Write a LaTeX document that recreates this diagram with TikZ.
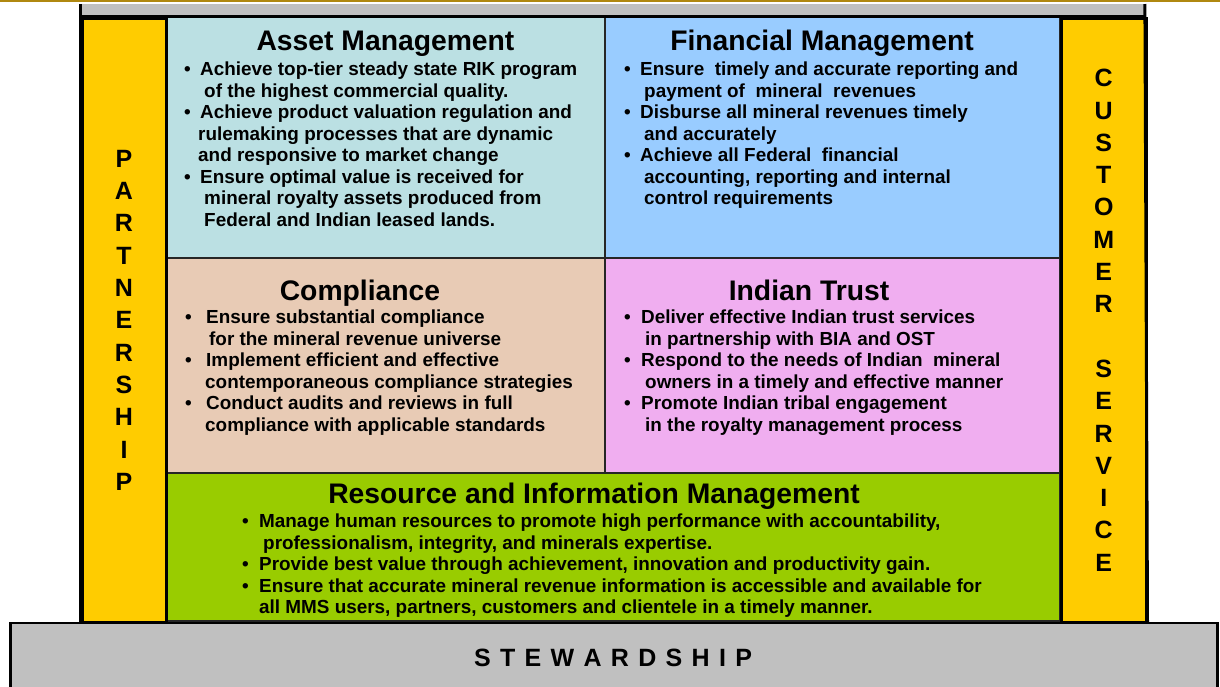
\documentclass[tikz,border=0pt]{standalone}
\usepackage{fontspec}
\setmainfont{Liberation Sans}
\usetikzlibrary{positioning}

\definecolor{assetblue}{RGB}{187,224,227}
\definecolor{financeblue}{RGB}{153,204,255}
\definecolor{compliancetan}{RGB}{232,203,181}
\definecolor{trustpink}{RGB}{240,174,240}
\definecolor{resourcegreen}{RGB}{153,204,0}
\definecolor{pillaryellow}{RGB}{255,204,0}
\definecolor{basegray}{RGB}{192,192,192}
\definecolor{rimgold}{RGB}{176,136,16}

\newcommand{\itm}[1][16pt]{\makebox[#1][l]{\textbullet}}
\newcommand{\ind}[1]{\hspace*{#1}}

\begin{document}
\begin{tikzpicture}
	[x=1pt, y=-1pt,
	 cell/.style={draw=black!85, line width=1.5pt, anchor=north west, inner sep=0pt, outer sep=0pt},
	 pillar/.style={draw=black, line width=3pt, fill=pillaryellow, anchor=north west, inner sep=0pt},
	 slab/.style={fill=basegray, anchor=north west, inner sep=0pt},
	 head/.style={anchor=base, inner sep=0pt, font=\fontsize{28.3}{34}\selectfont\bfseries},
	 lst/.style={anchor=north west, align=left, inner sep=0pt, font=\fontsize{18.9}{21.5}\selectfont\bfseries},
	 vert/.style={align=center, inner sep=0pt, font=\fontsize{25}{32.3}\selectfont\bfseries}]
	\useasboundingbox (0,0) rectangle (1220,686);

	% roof
	\node[fill=rimgold, anchor=north west, inner sep=0pt, minimum width=1220pt, minimum height=2pt] (rim) at (0,0) {};
	\node[slab, minimum width=1064pt, minimum height=12.5pt] (roof) at (80.5,4) {};

	% the five areas
	\node[cell, fill=assetblue, minimum width=440pt, minimum height=241.5pt] (asset) at (165,16.5) {};
	\node[cell, fill=financeblue, minimum width=455pt, minimum height=241.5pt] (finance) at (605,16.5) {};
	\node[cell, fill=compliancetan, minimum width=440pt, minimum height=215pt] (comply) at (165,258) {};
	\node[cell, fill=trustpink, minimum width=455pt, minimum height=215pt] (trust) at (605,258) {};
	\node[cell, fill=resourcegreen, minimum width=895pt, minimum height=148pt] (resource) at (165,473) {};

	% pillars
	\node[pillar, minimum width=84pt, minimum height=604.5pt] (left) at (80.5,16.5) {};
	\node[pillar, minimum width=84.5pt, minimum height=604.5pt] (right) at (1060,16.5) {};
	\draw[line width=3pt] (roof.south west) -- (roof.south east);
	\draw[line width=3pt] (roof.north west) -- (left.south west);
	\draw[line width=3pt] (roof.north east) -- (right.south east);

	% base
	\node[slab, draw=black, line width=2.5pt, minimum width=1207pt, minimum height=80pt] (base) at (9,621.5) {};

	% headings
	\node[head] (assethead) at (385.5,50.5) {Asset Management};
	\node[head] (financehead) at (822,50.5) {Financial Management};
	\node[head] (complyhead) at (360,300.5) {Compliance};
	\node[head] (trusthead) at (809,300.5) {Indian Trust};
	\node[head] (resourcehead) at (594,503.5) {Resource and Information Management};

	% goals
	\node[lst] (assetlist) at (184,62) {\itm Achieve top-tier steady state RIK program\\
		\ind{20pt}of the highest commercial quality.\\
		\itm Achieve product valuation regulation and\\
		\ind{14pt}rulemaking processes that are dynamic\\
		\ind{14pt}and responsive to market change\\
		\itm Ensure optimal value is received for\\
		\ind{20pt}mineral royalty assets produced from\\
		\ind{20pt}Federal and Indian leased lands.};
	\node[lst] (financelist) at (624,62) {\itm Ensure~ timely and accurate reporting and\\
		\ind{20pt}payment of~ mineral~ revenues\\
		\itm Disburse all mineral revenues timely\\
		\ind{20pt}and accurately\\
		\itm Achieve all Federal~ financial\\
		\ind{20pt}accounting, reporting and internal\\
		\ind{20pt}control requirements};
	\node[lst] (complylist) at (185,310) {\itm[21pt]Ensure substantial compliance\\
		\ind{24pt}for the mineral revenue universe\\
		\itm[21pt]Implement efficient and effective\\
		\ind{20pt}contemporaneous compliance strategies\\
		\itm[21pt]Conduct audits and reviews in full\\
		\ind{20pt}compliance with applicable standards};
	\node[lst] (trustlist) at (624,310) {\itm[17pt]Deliver effective Indian trust services\\
		\ind{21pt}in partnership with BIA and OST\\
		\itm[17pt]Respond to the needs of Indian~ mineral\\
		\ind{21pt}owners in a timely and effective manner\\
		\itm[17pt]Promote Indian tribal engagement\\
		\ind{21pt}in the royalty management process};
	\node[lst] (resourcelist) at (242,514) {\itm[17pt]Manage human resources to promote high performance with accountability,\\
		\ind{21pt}professionalism, integrity, and minerals expertise.\\
		\itm[17pt]Provide best value through achievement, innovation and productivity gain.\\
		\itm[17pt]Ensure that accurate mineral revenue information is accessible and available for\\
		\ind{17pt}all MMS users, partners, customers and clientele in a timely manner.};

	% pillar and base words
	\node[vert] (partner) at (left.center) {P\\A\\R\\T\\N\\E\\R\\S\\H\\I\\P};
	\node[vert] (customer) at (right.center) {C\\U\\S\\T\\O\\M\\E\\R\\[32.3pt]S\\E\\R\\V\\I\\C\\E};
	\node[anchor=base, inner sep=0pt, font=\fontsize{25}{30}\selectfont\bfseries\addfontfeatures{LetterSpace=9.5}] (steward) at (613,666) {S T E W A R D S H I P};
\end{tikzpicture}
\end{document}
